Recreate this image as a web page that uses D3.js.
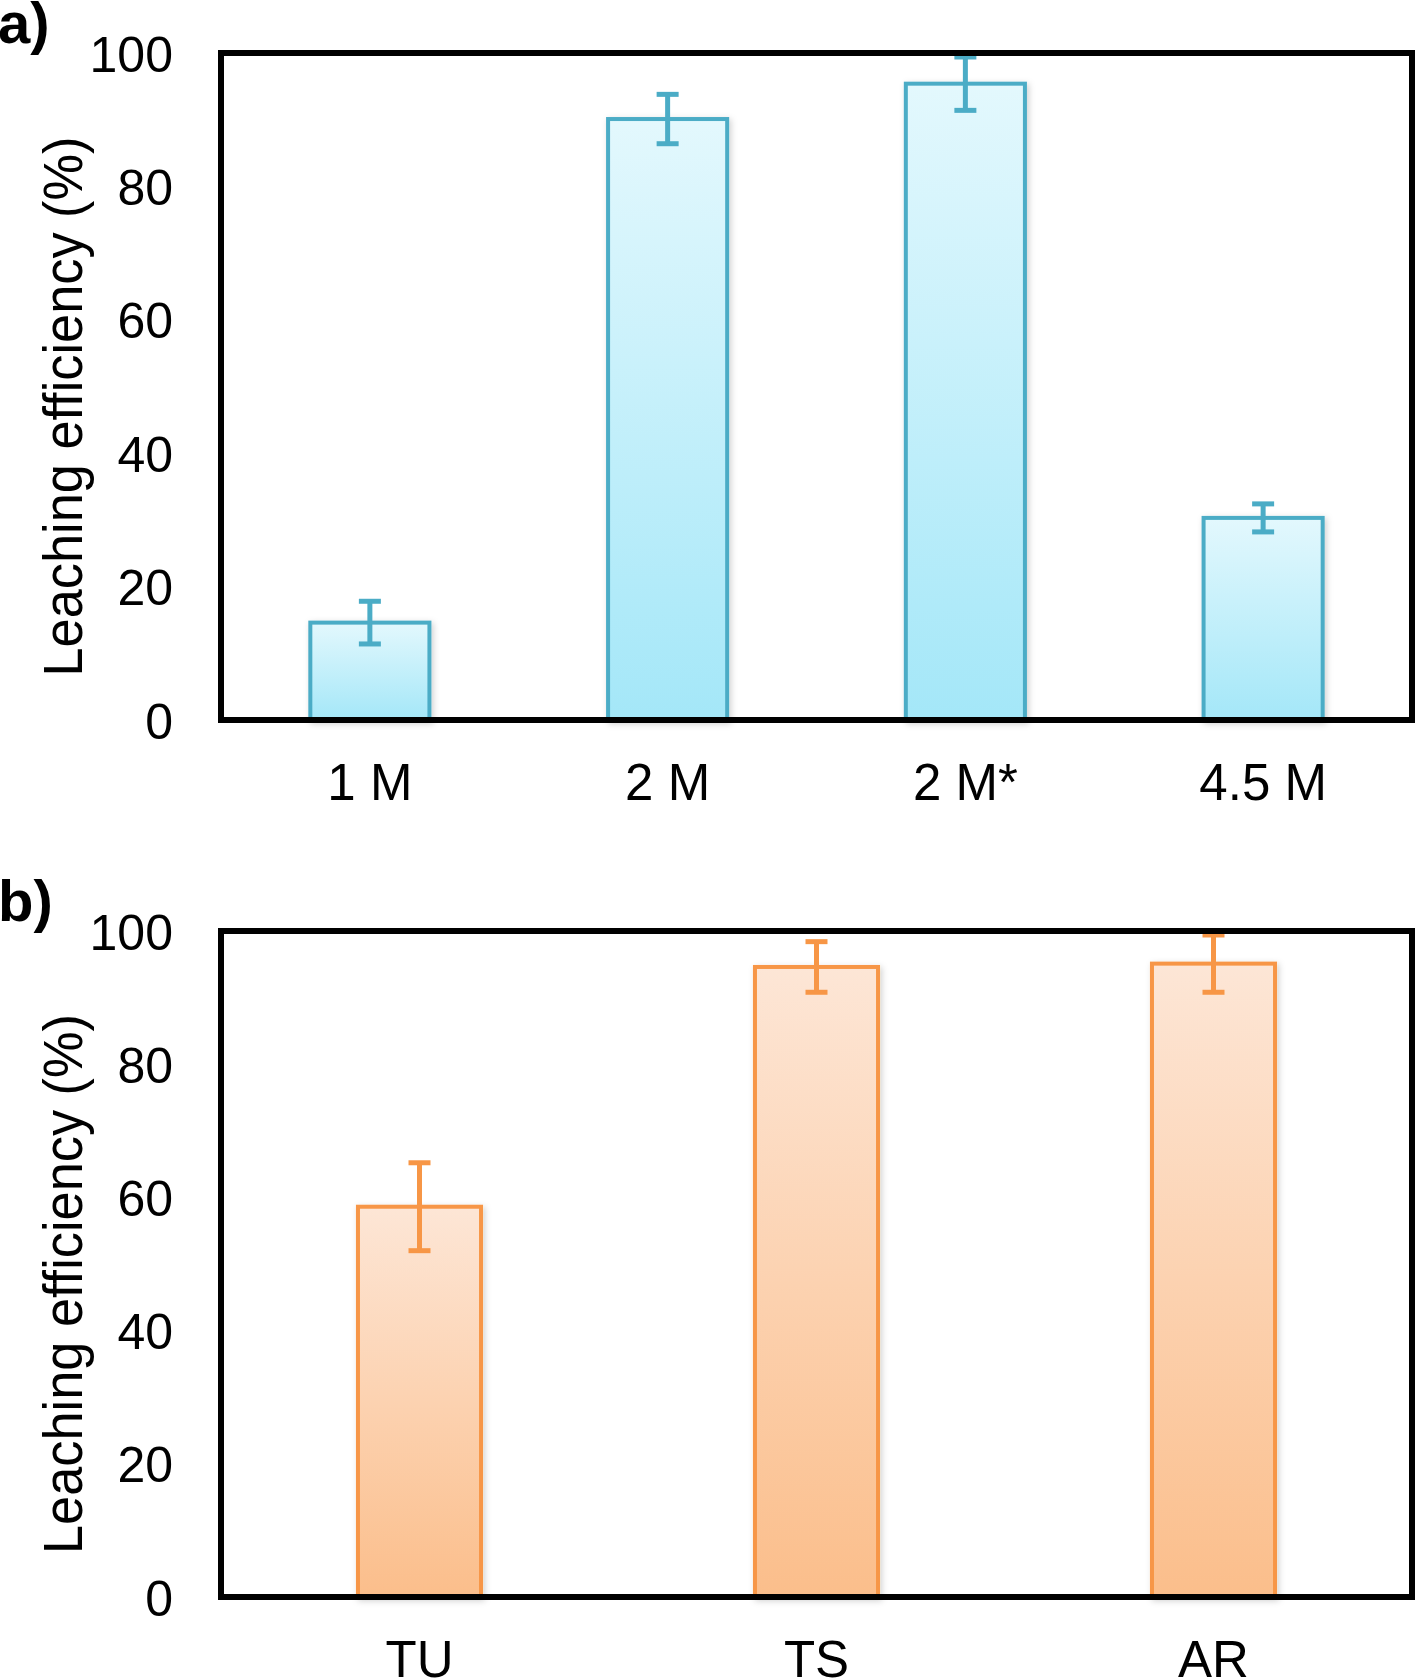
<!DOCTYPE html>
<html>
<head>
<meta charset="utf-8">
<script src="https://cdn.jsdelivr.net/npm/d3@7"></script>
<style>
  html, body { margin: 0; padding: 0; background: #fff; }
  svg { display: block; }
  text { font-family: "Liberation Sans", Arial, Helvetica, sans-serif; fill: #000; }
</style>
</head>
<body>
<svg id="chart" width="1416" height="1679"></svg>
<script>
// ---- data ----
const categoriesA = ["1 M", "2 M", "2 M*", "4.5 M"];
const valuesA = [14.6, 90.1, 95.4, 30.3];
const errorsA = [3.2, 3.7, 4.0, 2.1];

const categoriesB = ["TU", "TS", "AR"];
const valuesB = [58.6, 94.6, 95.1];
const errorsB = [6.6, 3.8, 4.3];

const yTickValues = [0, 20, 40, 60, 80, 100];
const yTitle = "Leaching efficiency (%)";
const panelLabels = ["a)", "b)"];

// ---- drawing ----
const svg = d3.select("#chart");
svg.append("rect").attr("width", 1416).attr("height", 1679).attr("fill", "#fff");

const defs = svg.append("defs");
function grad(id, top, bottom) {
  const g = defs.append("linearGradient").attr("id", id)
    .attr("x1", 0).attr("y1", 0).attr("x2", 0).attr("y2", 1);
  g.append("stop").attr("offset", "0%").attr("stop-color", top);
  g.append("stop").attr("offset", "100%").attr("stop-color", bottom);
}
grad("gradBlue", "#e3f8fd", "#a4e7f8");
grad("gradOrange", "#fde6d6", "#fbbe8b");
const f = defs.append("filter").attr("id", "shadow")
  .attr("x", "-20%").attr("y", "-10%").attr("width", "140%").attr("height", "120%");
f.append("feDropShadow").attr("dx", 2).attr("dy", 2).attr("stdDeviation", 3)
  .attr("flood-color", "#000").attr("flood-opacity", 0.18);

function panel(opts) {
  const { cats, vals, errs, top, bottom, left, right, padInner, fill, stroke, label, labelY } = opts;
  const g = svg.append("g");
  const x = d3.scaleBand().domain(cats).range([left, right])
    .paddingInner(padInner).paddingOuter(padInner / 2);
  const y = d3.scaleLinear().domain([0, 100]).range([bottom, top]);

  // bars
  g.selectAll("rect.bar").data(cats).join("rect")
    .attr("class", "bar")
    .attr("x", d => x(d))
    .attr("width", x.bandwidth())
    .attr("y", (d, i) => y(vals[i]))
    .attr("height", (d, i) => y(0) - y(vals[i]))
    .attr("fill", fill)
    .attr("stroke", stroke)
    .attr("stroke-width", 4)
    .attr("filter", "url(#shadow)");

  // error bars
  const capW = 22;
  const eb = g.selectAll("g.err").data(cats).join("g").attr("class", "err")
    .attr("stroke", stroke).attr("stroke-width", 5).attr("fill", "none");
  eb.append("line")
    .attr("x1", d => x(d) + x.bandwidth() / 2).attr("x2", d => x(d) + x.bandwidth() / 2)
    .attr("y1", (d, i) => y(vals[i] + errs[i])).attr("y2", (d, i) => y(vals[i] - errs[i]));
  eb.append("line")
    .attr("x1", d => x(d) + x.bandwidth() / 2 - capW / 2).attr("x2", d => x(d) + x.bandwidth() / 2 + capW / 2)
    .attr("y1", (d, i) => y(vals[i] + errs[i])).attr("y2", (d, i) => y(vals[i] + errs[i]));
  eb.append("line")
    .attr("x1", d => x(d) + x.bandwidth() / 2 - capW / 2).attr("x2", d => x(d) + x.bandwidth() / 2 + capW / 2)
    .attr("y1", (d, i) => y(vals[i] - errs[i])).attr("y2", (d, i) => y(vals[i] - errs[i]));

  // frame
  g.append("rect").attr("x", left).attr("y", top)
    .attr("width", right - left).attr("height", bottom - top)
    .attr("fill", "none").attr("stroke", "#000").attr("stroke-width", 6);

  // y axis labels (no tick marks)
  const yAxis = d3.axisLeft(y).tickValues(yTickValues).tickSize(0).tickPadding(0);
  const ya = g.append("g").attr("transform", `translate(${173},0)`).call(yAxis);
  ya.select(".domain").remove();
  ya.selectAll("text").attr("font-size", 50).attr("dy", "0.36em")
    .style("font-family", '"Liberation Sans", Arial, sans-serif').attr("fill", "#000");

  // x axis labels
  const xAxis = d3.axisBottom(x).tickSize(0).tickPadding(0);
  const xa = g.append("g").attr("transform", `translate(0,${bottom + 80})`).call(xAxis);
  xa.select(".domain").remove();
  xa.selectAll("text").attr("font-size", 51).attr("dy", 0).attr("y", 0)
    .style("font-family", '"Liberation Sans", Arial, sans-serif').attr("fill", "#000");

  // y title
  const cy = (top + bottom) / 2 + 20;
  g.append("text")
    .attr("transform", `translate(82,${cy}) rotate(-90)`)
    .attr("text-anchor", "middle")
    .attr("font-size", 55)
    .attr("textLength", 540)
    .attr("lengthAdjust", "spacingAndGlyphs")
    .text(yTitle);

  // panel label
  g.append("text").attr("x", -2).attr("y", labelY)
    .attr("font-size", 58).attr("font-weight", "bold").text(label);
}

panel({ cats: categoriesA, vals: valuesA, errs: errorsA, top: 53, bottom: 720, left: 221, right: 1412,
  padInner: 0.6, fill: "url(#gradBlue)", stroke: "#4bacc6", label: panelLabels[0], labelY: 43 });
panel({ cats: categoriesB, vals: valuesB, errs: errorsB, top: 931, bottom: 1597, left: 221, right: 1412,
  padInner: 0.69, fill: "url(#gradOrange)", stroke: "#f79646", label: panelLabels[1], labelY: 921 });
</script>
</body>
</html>
